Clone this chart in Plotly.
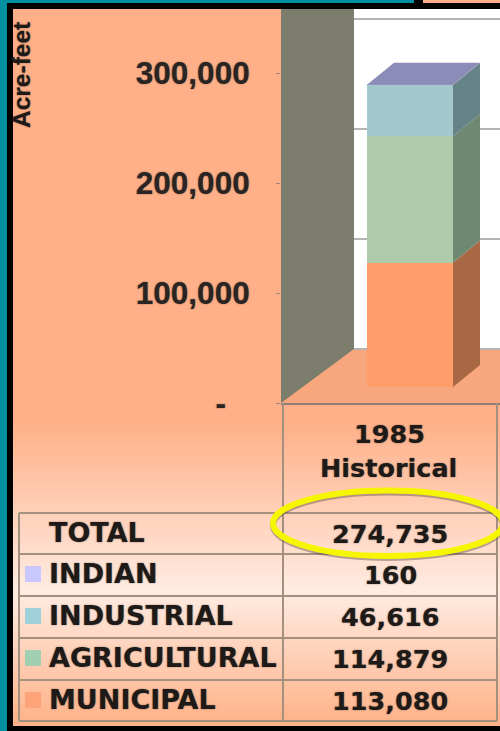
import plotly.graph_objects as go

# ---- data ----
periods = ["1985<br>Historical"]
series_names = ["MUNICIPAL", "AGRICULTURAL", "INDUSTRIAL", "INDIAN"]
municipal = [113080]
agricultural = [114879]
industrial = [46616]
indian = [160]
total_label = "TOTAL"
total = [274735]
tick_values = [0, 100000, 200000, 300000]
tick_labels = ["-\u00a0\u00a0\u2009", "100,000", "200,000", "300,000"]
axis_title = "Acre-feet"

# ---- style ----
front_colors = ["#FF9E6A", "#AECBAB", "#A3C8CD", "#A9A9E0"]
side_colors = ["#A86844", "#6E8872", "#668488", "#6E7E88"]
top_color = "#8C8CB8"
key_colors = ["#FFA478", "#A2CFB2", "#A0D0DA", "#C8C8FF"]
grid_color = "#B4B4B0"
rule_color = "#A3907F"
text_color = "#1E1A18"

W, H = 500, 731
PLOT_L, PLOT_T, PLOT_B = 281, 9, 403
PLOT_W, PLOT_H = W - PLOT_L, PLOT_B - PLOT_T
PX_X = 214.0            # px per category
PX_Y = 1.1 / 1000       # px per acre-foot
YMAX = PLOT_H / PX_Y
X_LO, X_HI = -109 / PX_X, 110 / PX_X
WALL_DX, WALL_DY = 73 / PX_X, 54 / PX_Y       # depth of the chart box
BAR_DX, BAR_DY = 27 / PX_X, 22 / PX_Y         # depth of the column
BAR_SHIFT = 20 / PX_X
BAR_W = 86 / PX_X
FLOOR_PX = 16


def px(v):
    return (v - PLOT_L) / PLOT_W


def py(v):
    return (PLOT_B - v) / PLOT_H


shapes = []


def rect(x0, y0, x1, y1, color):
    shapes.append(dict(type="rect", xref="paper", yref="paper", x0=px(x0), x1=px(x1),
                       y0=py(y0), y1=py(y1), fillcolor=color, line_width=0, layer="below"))


def rule(x0, y0, x1, y1, color=rule_color, width=2):
    shapes.append(dict(type="line", xref="paper", yref="paper", x0=px(x0), x1=px(x1),
                       y0=py(y0), y1=py(y1), line=dict(color=color, width=width), layer="above"))


def lerp(a, b, t):
    return tuple(round(a[i] + (b[i] - a[i]) * t) for i in range(3))


# frame pieces
rect(0, 0, 7, H, "#008FA0")
rect(0, 0, 414, 3, "#008FA0")
rect(423, 0, W, 3, "#FFB088")

# panel with its vertical gradient
TOP, MID, END = (255, 176, 136), (255, 236, 226), (255, 176, 134)
Y0, Y1, Y2, Y3 = 9, 420, 590, 726
rect(13, Y0, W, Y1, "rgb(%d,%d,%d)" % TOP)
for y in range(Y1, Y3, 3):
    c = lerp(TOP, MID, (y - Y1) / (Y2 - Y1)) if y < Y2 else lerp(MID, END, (y - Y2) / (Y3 - Y2))
    rect(13, y, W, min(y + 3, Y3), "rgb(%d,%d,%d)" % c)

# table rules
row_lines = [513, 554, 596, 638, 680, 721]
for y in row_lines:
    rule(19, y, 497, y)
rule(19, row_lines[0], 19, row_lines[-1])
rule(283, 403, 283, row_lines[-1])
rule(497, 403, 497, row_lines[-1])

fig = go.Figure()

# chart box: back wall, floor, side wall, gridlines
bx0, by1 = X_LO + WALL_DX, YMAX
fig.add_trace(go.Scatter(x=[bx0, X_HI, X_HI, bx0, bx0], y=[WALL_DY, WALL_DY, by1, by1, WALL_DY],
                         fill="toself", fillcolor="#FFFFFF", mode="none", hoverinfo="skip", showlegend=False))
fig.add_trace(go.Scatter(x=[X_LO, bx0, X_HI, X_HI, X_LO], y=[0, WALL_DY, WALL_DY, 0, 0],
                         fill="toself", fillcolor="#F8A67E", mode="none", hoverinfo="skip", showlegend=False))
for t in tick_values:
    fig.add_trace(go.Scatter(x=[bx0, X_HI], y=[t + WALL_DY, t + WALL_DY], mode="lines",
                             line=dict(color=grid_color, width=2), hoverinfo="skip", showlegend=False))
fig.add_trace(go.Scatter(x=[X_LO, bx0, bx0, X_LO, X_LO], y=[0, WALL_DY, by1, by1, 0],
                         fill="toself", fillcolor="#7D7D6E", mode="none", hoverinfo="skip", showlegend=False))

# column: stacked front faces, then the side and top faces from the same values
stack = [municipal, agricultural, industrial, indian]
centre = 0 + BAR_SHIFT
for name, vals, col in zip(series_names, stack, front_colors):
    fig.add_trace(go.Bar(x=[centre], y=vals, name=name, width=BAR_W, marker=dict(color=col, line_width=0),
                         yaxis="y2", showlegend=False))
right = centre + BAR_W / 2
left = centre - BAR_W / 2
lo = 0
for vals, col in zip(stack, side_colors):
    hi = lo + vals[0]
    fig.add_trace(go.Scatter(x=[right, right + BAR_DX, right + BAR_DX, right, right],
                             y=[lo, lo + BAR_DY, hi + BAR_DY, hi, lo], yaxis="y2",
                             fill="toself", fillcolor=col, mode="none", hoverinfo="skip", showlegend=False))
    lo = hi
fig.add_trace(go.Scatter(x=[left, right, right + BAR_DX, left + BAR_DX, left],
                         y=[lo, lo, lo + BAR_DY, lo + BAR_DY, lo], yaxis="y2",
                         fill="toself", fillcolor=top_color, mode="none", hoverinfo="skip", showlegend=False))

# texts
annotations = []
soft = "0 0 1.5px rgba(40,30,25,0.65)"


def label(text, x, y, size=25.5, anchor="center", angle=0, family="DejaVu Sans"):
    annotations.append(dict(text="<b>%s</b>" % text, xref="paper", yref="paper", x=px(x), y=py(y),
                            xanchor=anchor, yanchor="middle", showarrow=False, textangle=angle,
                            font=dict(family=family, size=size, color=text_color, shadow=soft)))


label(axis_title, 22, 75, size=24.5, angle=-90, family="Liberation Sans")
label(periods[0].split("<br>")[0], 389, 434)
label(periods[0].split("<br>")[1], 388.5, 468)

row_names = [total_label] + series_names[::-1]
row_values = [total[0], indian[0], industrial[0], agricultural[0], municipal[0]]
row_keys = [None] + key_colors[::-1]
row_ys = [533, 574, 616, 658, 700]
for nm, v, key, y in zip(row_names, row_values, row_keys, row_ys):
    label(nm, 46.5, y - 1, size=27, anchor="left")
    label(f"{v:,}", 390, y + 1)
    if key:
        rect(25, y - 8, 41, y + 8, key)

# highlight ellipse around the total
for off, col, wid in [(2, "rgba(90,80,70,0.45)", 6), (0, "#F6F600", 6)]:
    shapes.append(dict(type="circle", xref="paper", yref="paper", x0=px(273), x1=px(503),
                       y0=py(490.5 + off), y1=py(556 + off), line=dict(color=col, width=wid),
                       fillcolor="rgba(0,0,0,0)", layer="above"))

fig.update_layout(
    width=W, height=H, autosize=False,
    margin=dict(l=PLOT_L, r=0, t=PLOT_T, b=H - PLOT_B, pad=0),
    paper_bgcolor="#000000", plot_bgcolor="rgba(0,0,0,0)",
    barmode="stack", bargap=0, showlegend=False,
    shapes=shapes, annotations=annotations,
    xaxis=dict(range=[X_LO, X_HI], showgrid=False, zeroline=False, showticklabels=False, ticks="",
               showline=True, linecolor="#8F7F78", linewidth=2),
    yaxis=dict(range=[0, YMAX], tickvals=tick_values, ticktext=tick_labels, showgrid=False, zeroline=False,
               ticks="outside", ticklen=4, tickcolor="#A08A7C", tickwidth=1, ticklabelstandoff=20, showline=False,
               tickfont=dict(family="Liberation Sans", size=31.5, color="#2A2422", weight="bold", shadow=soft)),
    yaxis2=dict(range=[-FLOOR_PX / PX_Y, (PLOT_H - FLOOR_PX) / PX_Y], overlaying="y", visible=False),
)

fig.write_html("out.html", post_script="document.body.style.margin='0';document.body.style.background='#000';",
               config=dict(displayModeBar=False))
